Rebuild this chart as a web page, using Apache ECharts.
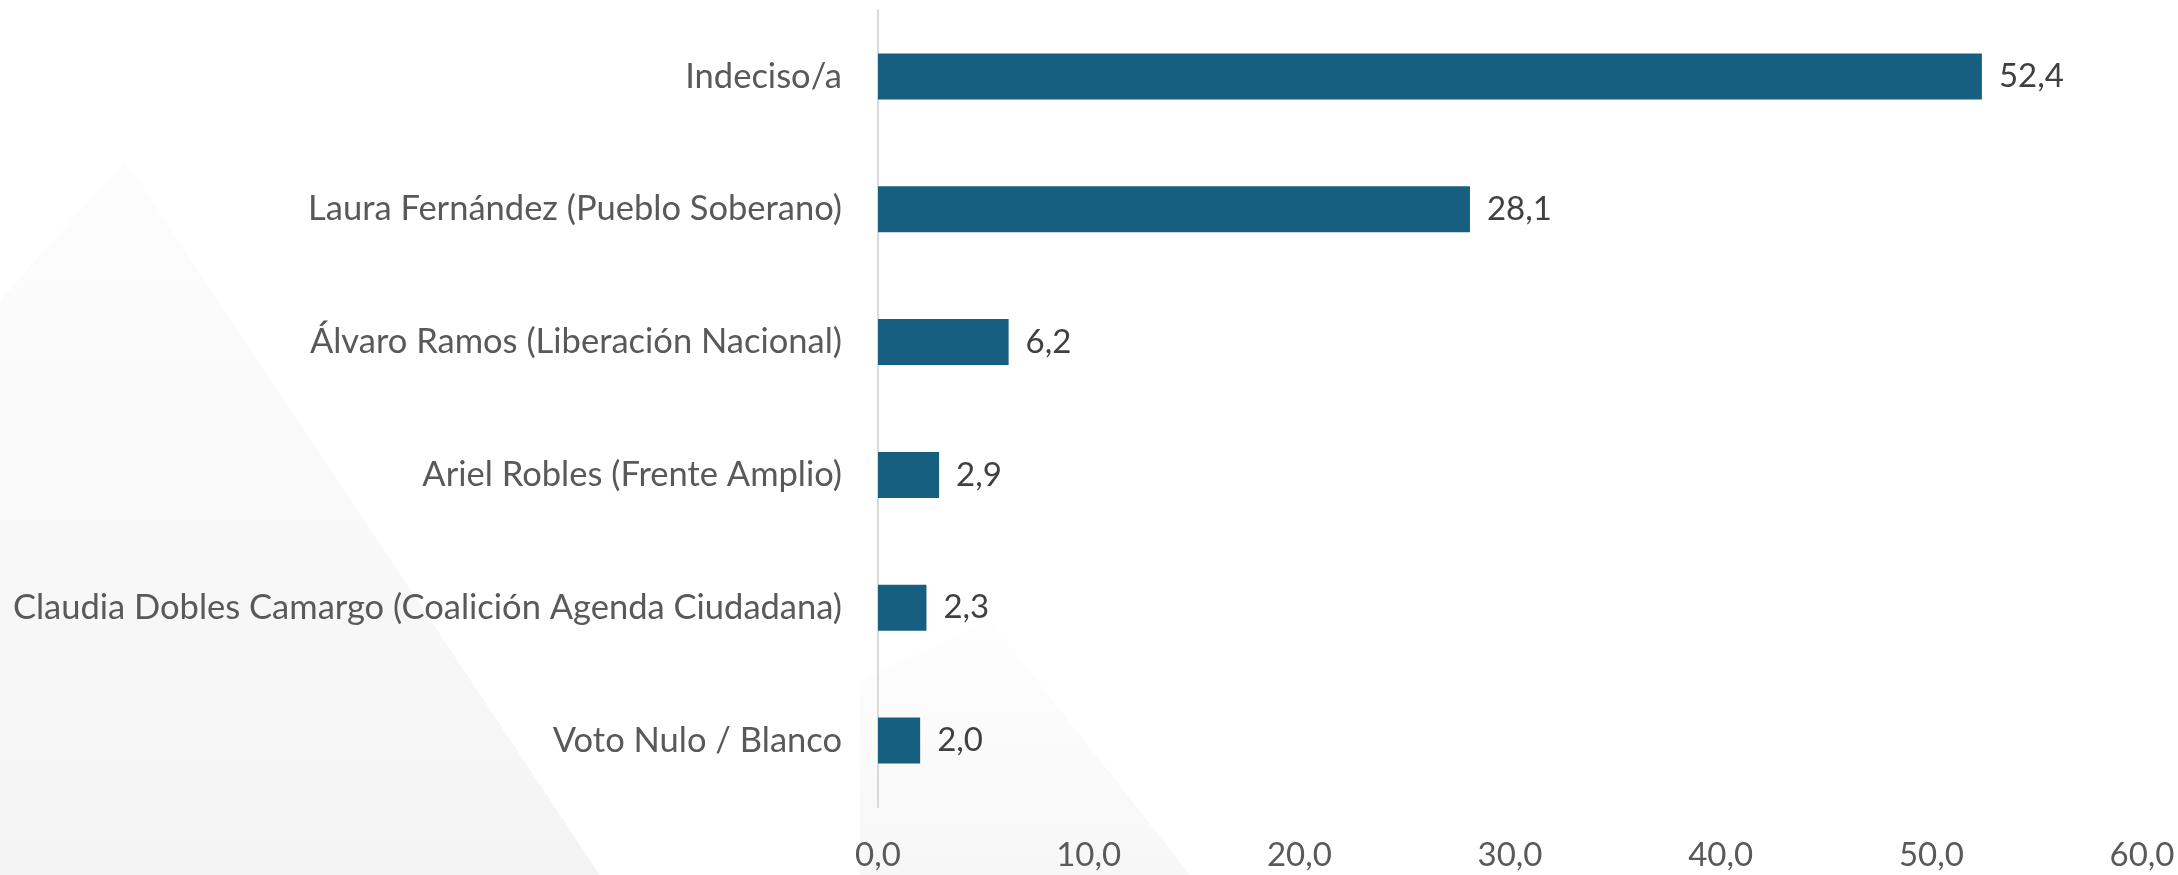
<!DOCTYPE html>
<html>
<head>
<meta charset="utf-8">
<script src="https://cdn.jsdelivr.net/npm/echarts@6/dist/echarts.min.js"></script>
<style>
html,body{margin:0;padding:0;background:#fff;}
#chart{width:2178px;height:875px;}
</style>
</head>
<body>
<div id="chart"></div>
<script>
const categories = [
  "Indeciso/a",
  "Laura Fernández (Pueblo Soberano)",
  "Álvaro Ramos (Liberación Nacional)",
  "Ariel Robles (Frente Amplio)",
  "Claudia Dobles Camargo (Coalición Agenda Ciudadana)",
  "Voto Nulo / Blanco"
];
const values = [52.4, 28.1, 6.2, 2.9, 2.3, 2.0];
const xTicks = { min: 0, max: 60, interval: 10 };

const fmt = v => Number(v).toFixed(1).replace('.', ',');
const FONT = 'Lato';

const chart = echarts.init(document.getElementById('chart'), null, { renderer: 'canvas' });
chart.setOption({
  backgroundColor: '#ffffff',
  animation: false,
  graphic: [
    {
      type: 'polygon', z: -10, silent: true,
      shape: { points: [[0, 300], [125, 160], [600, 875], [0, 875]] },
      style: {
        fill: new echarts.graphic.LinearGradient(0, 0, 0, 1, [
          { offset: 0, color: '#fdfdfd' },
          { offset: 1, color: '#f4f4f4' }
        ])
      }
    },
    {
      type: 'polygon', z: -10, silent: true,
      shape: { points: [[860, 680], [990, 620], [1190, 875], [860, 875]] },
      style: {
        fill: new echarts.graphic.LinearGradient(0, 0, 0, 1, [
          { offset: 0, color: '#fefefe' },
          { offset: 1, color: '#f7f7f7' }
        ])
      }
    }
  ],
  grid: { left: 878, right: 36, top: 10, bottom: 68, containLabel: false },
  xAxis: {
    type: 'value',
    min: xTicks.min, max: xTicks.max, interval: xTicks.interval,
    axisLine: { show: false },
    axisTick: { show: false },
    splitLine: { show: false },
    axisLabel: {
      formatter: fmt,
      color: '#595959',
      fontFamily: FONT,
      fontSize: 33,
      margin: 32
    }
  },
  yAxis: {
    type: 'category',
    inverse: true,
    data: categories,
    axisLine: { show: true, lineStyle: { color: '#d9d9d9', width: 2 } },
    axisTick: { show: false },
    axisLabel: {
      color: '#595959',
      fontFamily: FONT,
      fontSize: 34.5,
      margin: 36
    }
  },
  series: [{
    type: 'bar',
    data: values,
    barWidth: 46,
    itemStyle: { color: '#175F80' },
    label: {
      show: true,
      position: 'right',
      distance: 17,
      formatter: p => fmt(p.value),
      color: '#404040',
      fontFamily: FONT,
      fontSize: 33
    }
  }]
});
</script>
</body>
</html>
